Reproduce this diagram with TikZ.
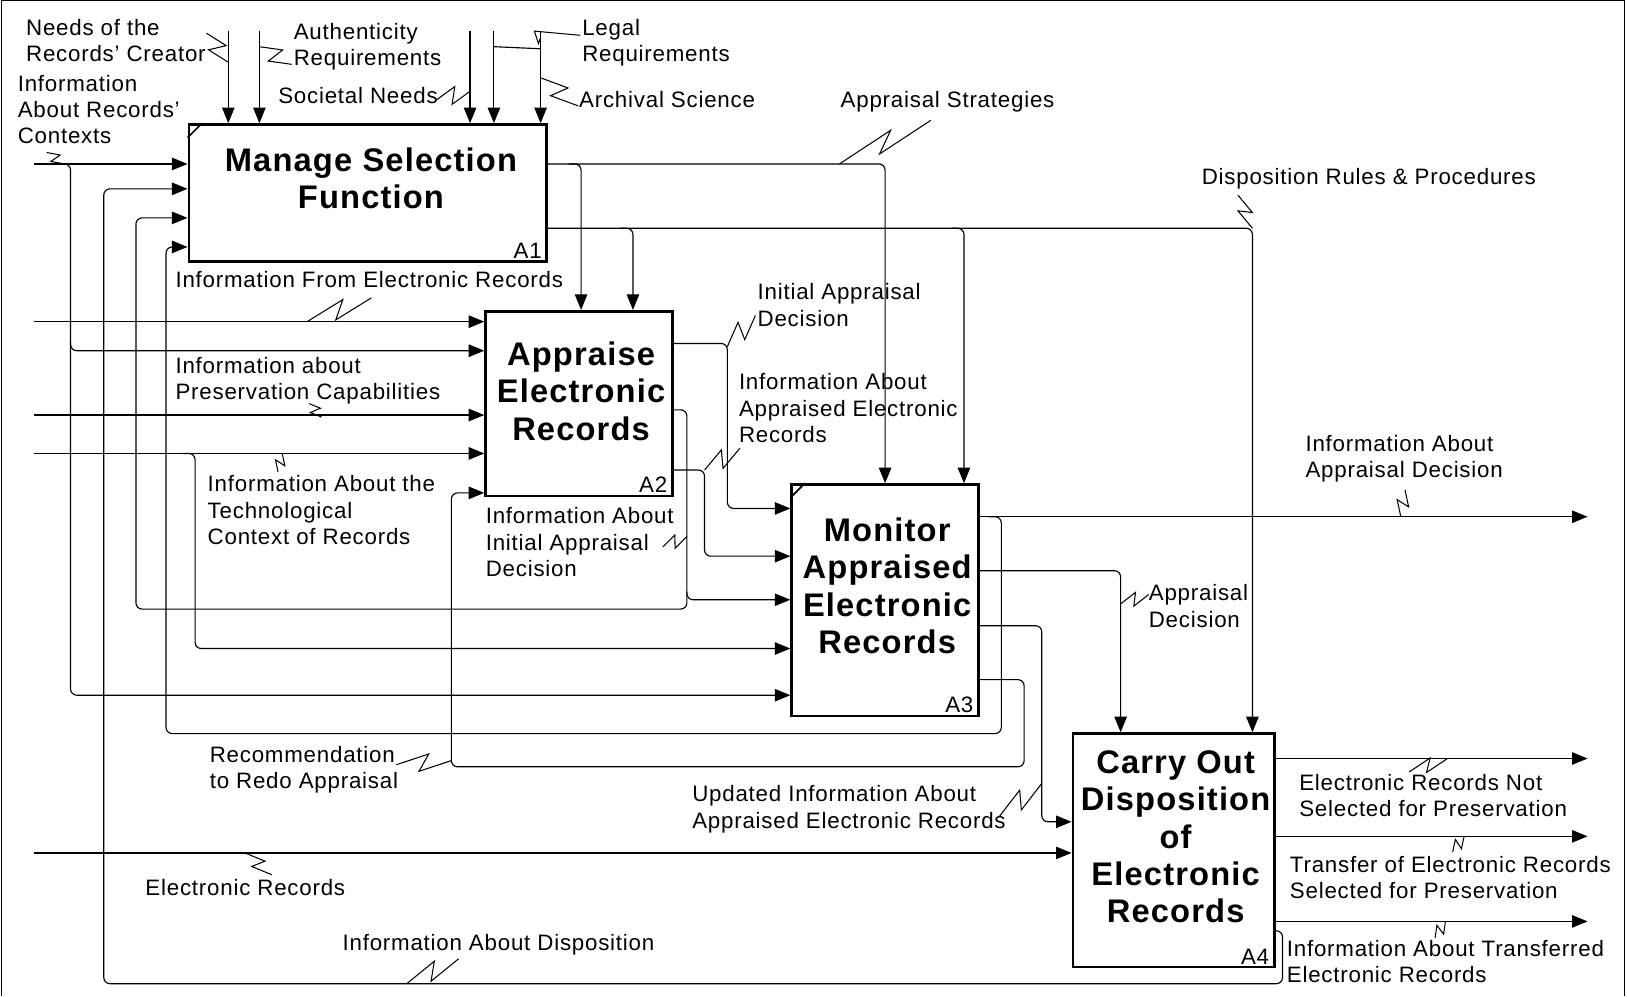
\documentclass[tikz,border=0pt]{standalone}
\usepackage{fontspec}
\setmainfont[LetterSpace=3.5]{Liberation Sans}
\usetikzlibrary{arrows.meta,calc}
\begin{document}
\begin{tikzpicture}[x=1pt,y=-1pt,
  lbl/.style={font=\fontsize{21.5}{25.5}\selectfont, inner sep=0pt, anchor=north west, align=left},
  ttl/.style={font=\fontsize{31.5}{36}\selectfont\bfseries, inner sep=0pt, align=center},
  box/.style={draw, line width=2.6pt, inner sep=0pt, fill=white},
  num/.style={font=\fontsize{21.5}{25}\selectfont, inner sep=0pt, anchor=south east},
  ln/.style={line width=1.1pt, rounded corners=6pt},
  arr/.style={ln, -{Triangle[length=15pt,width=12pt]}},
  notch/.style={line width=1.6pt},
  squig/.style={line width=1pt, to path={-- ($(\tikztostart)!0.6!(\tikztotarget)!#1!90:(\tikztotarget)$) -- ($(\tikztostart)!0.4!(\tikztotarget)!#1!-90:(\tikztotarget)$) -- (\tikztotarget)}},
  squig/.default=8pt,
]
\useasboundingbox (0,0) rectangle (1568,960);
\draw[line width=1pt] (1,960) -- (1,0.5) -- (1566,0.5) -- (1566,960);

% ---------- boxes ----------
\node[box, minimum width=345pt, minimum height=132pt] (A1) at (354.5,186) {};
\node[box, minimum width=180pt, minimum height=178pt] (A2) at (558,389) {};
\node[box, minimum width=180pt, minimum height=223pt] (A3) at (853,578.5) {};
\node[box, minimum width=194pt, minimum height=225pt] (A4) at (1131,819.5) {};
\draw[notch] ($(A1.north west)+(0,14)$) -- ($(A1.north west)+(14,0)$);
\draw[notch] ($(A3.north west)+(0,14)$) -- ($(A3.north west)+(14,0)$);

\node[ttl] (T1) at ($(A1.center)+(3,-14)$) {Manage Selection\\Function};
\node[ttl] (T2) at ($(A2.center)+(2,-12)$) {Appraise\\Electronic\\Records};
\node[ttl] (T3) at ($(A3.center)+(2,-14)$) {Monitor\\Appraised\\Electronic\\Records};
\node[ttl] (T4) at ($(A4.center)+(2,-13)$) {Carry Out\\Disposition\\of\\Electronic\\Records};
\node[num] (N1) at ($(A1.south east)+(-6,-4)$) {A1};
\node[num] (N2) at ($(A2.south east)+(-6,-4)$) {A2};
\node[num] (N3) at ($(A3.south east)+(-6,-4)$) {A3};
\node[num] (N4) at ($(A4.south east)+(-6,-4)$) {A4};

% ---------- labels ----------
\node[lbl] (L1) at (25,18) {Needs of the\\Records' Creator};
\node[lbl] (L2) at (283,22) {Authenticity\\Requirements};
\node[lbl] (L3) at (561,18) {Legal\\Requirements};
\node[lbl] (L4) at (17,72) {Information\\About Records'\\Contexts};
\node[lbl] (L5) at (268,84) {Societal Needs};
\node[lbl] (L6) at (558,88) {Archival Science};
\node[lbl] (L7) at (810,88) {Appraisal Strategies};
\node[lbl] (L8) at (1158,162) {Disposition Rules \& Procedures};
\node[lbl] (L9) at (169,261) {Information From Electronic Records};
\node[lbl] (L10) at (730,273) {Initial Appraisal\\Decision};
\node[lbl] (L11) at (169,344) {Information about\\Preservation Capabilities};
\node[lbl] (L12) at (712,360) {Information About\\Appraised Electronic\\Records};
\node[lbl] (L13) at (1258,419) {Information About\\Appraisal Decision};
\node[lbl] (L14) at (200,458) {Information About the\\Technological\\Context of Records};
\node[lbl] (L15) at (468,489) {Information About\\Initial Appraisal\\Decision};
\node[lbl] (L16) at (1107,563) {Appraisal\\Decision};
\node[lbl] (L17) at (202,719) {Recommendation\\to Redo Appraisal};
\node[lbl] (L18) at (667,757) {Updated Information About\\Appraised Electronic Records};
\node[lbl] (L19) at (1252,746) {Electronic Records Not\\Selected for Preservation};
\node[lbl] (L20) at (1243,825) {Transfer of Electronic Records\\Selected for Preservation};
\node[lbl] (L21) at (140,847) {Electronic Records};
\node[lbl] (L22) at (330,900) {Information About Disposition};
\node[lbl] (L23) at (1240,906) {Information About Transferred\\Electronic Records};

% ---------- controls of A1 ----------
\coordinate (cNeeds) at (220,30);
\coordinate (cAuth) at (250,30);
\coordinate (cSoc) at (453,30);
\coordinate (cLeg) at (476,30);
\coordinate (cArch) at (521,30);
\draw[arr] (cNeeds) -- (cNeeds |- A1.north);
\draw[arr] (cAuth) -- (cAuth |- A1.north);
\draw[arr] (cSoc) -- (cSoc |- A1.north);
\draw[arr] (cLeg) -- (cLeg |- A1.north);
\draw[arr] (cArch) -- (cArch |- A1.north);
\draw[ln] (cLeg |- 0,45) -- (cArch |- 0,47);

% ---------- inputs from the left ----------
\coordinate (iCtx) at (33,158);
\coordinate (iFrom) at (33,310);
\coordinate (iPres) at (33,400);
\coordinate (iTech) at (33,437);
\coordinate (iER) at (33,822);
\draw[arr] (iCtx) -- (A1.west |- iCtx);
\draw[arr] (58,158) -- (68,158) -- (68,338) -- (A2.west |- 0,338);
\draw[arr] (68,330) -- (68,670) -- (A3.west |- 0,670);
\draw[arr] (iFrom) -- (A2.west |- iFrom);
\draw[arr] (iPres) -- (A2.west |- iPres);
\draw[arr] (iTech) -- (A2.west |- iTech);
\draw[arr] (176,437) -- (188,437) -- (188,625) -- (A3.west |- 0,625);
\draw[arr] (iER) -- (A4.west |- iER);

% ---------- outputs of A1 ----------
\draw[arr] (A1.east |- 0,158) -- (853,158) -- (A3.north -| 853,0);
\draw[arr] (548,158) -- (560,158) -- (A2.north -| 560,0);
\draw[arr] (A1.east |- 0,220) -- (1207,220) -- (A4.north -| 1207,0);
\draw[arr] (598,220) -- (610,220) -- (A2.north -| 610,0);
\draw[arr] (917,220) -- (929,220) -- (A3.north -| 929,0);

% ---------- outputs of A2 ----------
\draw[arr] (A2.east |- 0,331) -- (701,331) -- (701,490) -- (A3.west |- 0,490);
\draw[arr] (A2.east |- 0,395) -- (662,395) -- (662,578) -- (A3.west |- 0,578);
\draw[arr] (662,570) -- (662,587) -- (131,587) -- (131,210) -- (A1.west |- 0,210);
\draw[arr] (A2.east |- 0,453) -- (679,453) -- (679,536) -- (A3.west |- 0,536);

% ---------- outputs of A3 ----------
\coordinate (oAD) at (1530,498);
\draw[arr] (A3.east |- oAD) -- (oAD);
\draw[arr] (953,498) -- (965,498) -- (965,707) -- (160,707) -- (160,238) -- (A1.west |- 0,238);
\draw[arr] (A3.east |- 0,550) -- (1080,550) -- (A4.north -| 1080,0);
\draw[arr] (A3.east |- 0,603) -- (1004,603) -- (1004,792) -- (A4.west |- 0,792);
\draw[arr] (A3.east |- 0,655) -- (987,655) -- (987,739) -- (435,739) -- (435,475) -- (A2.west |- 0,475);

% ---------- outputs of A4 ----------
\coordinate (oNS) at (1530,731);
\coordinate (oTr) at (1530,806);
\coordinate (oIT) at (1530,888);
\draw[arr] (A4.east |- oNS) -- (oNS);
\draw[arr] (A4.east |- oTr) -- (oTr);
\draw[arr] (A4.east |- oIT) -- (oIT);
\draw[arr] (A4.east |- 0,897) -- (1236,897) -- (1236,948) -- (100,948) -- (100,182) -- (A1.west |- 0,182);

% ---------- squiggles ----------
\draw[squig] (199,32) to (220,60);
\draw[squig] (281,62) to (250,45);
\draw[squig] (421,96) to (453,88);
\draw[line width=1pt] (559,34) -- (515,30) -- (519,42) -- (521,36);
\draw[squig] (557,102) to (521,75);
\draw[squig] (897,116) to (809,158);
\draw[squig=6pt] (1193,188) to (1207,220);
\draw[squig] (358,287) to (296,310);
\draw[squig] (728,304) to (701,334);
\draw[squig=5pt] (298,389) to (310,402);
\draw[squig] (713,432) to (679,453);
\draw[squig=6pt] (1354,472) to (1350,498);
\draw[squig=5pt] (268,455) to (272,437);
\draw[squig=6pt] (639,527) to (662,517);
\draw[squig=6pt] (1107,573) to (1080,582);
\draw[squig] (382,737) to (435,733);
\draw[squig] (963,787) to (1004,755);
\draw[squig=6pt] (1358,744) to (1395,731);
\draw[squig=5pt] (1400,821) to (1411,806);
\draw[squig=5pt] (1383,904) to (1393,888);
\draw[squig=6pt] (262,843) to (236,822);
\draw[squig] (442,924) to (392,948);
\draw[squig=5pt] (45,147) to (62,158);
\end{tikzpicture}
\end{document}
